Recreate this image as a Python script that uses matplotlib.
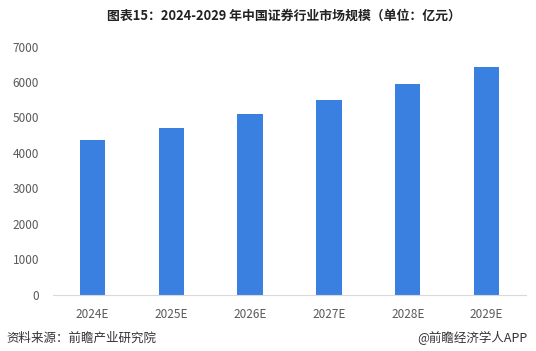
import matplotlib
matplotlib.use("Agg")
import matplotlib.pyplot as plt

plt.rcParams['font.family'] = ['Noto Sans CJK SC', 'DejaVu Sans']

# market size, 100 million yuan
years = ["2024E", "2025E", "2026E", "2027E", "2028E", "2029E"]
market_size = [4360, 4700, 5100, 5490, 5950, 6430]

fig = plt.figure(figsize=(5.36, 3.51), dpi=100)
ax = fig.add_axes([53 / 536, 56.5 / 351, 473 / 536, 248 / 351])

ax.bar(range(len(years)), market_size, width=0.32, color="#3A80E0", zorder=2)

ax.set_xlim(-0.5, len(years) - 0.5)
ax.set_ylim(0, 7000)
ax.set_yticks(range(0, 7001, 1000))
ax.set_xticks(range(len(years)))
ax.set_xticklabels(years)
ax.tick_params(axis="both", length=0, labelsize=8.5, labelcolor="#595959")
ax.tick_params(axis="y", pad=10)
ax.tick_params(axis="x", pad=10)

for side in ["top", "right", "left"]:
    ax.spines[side].set_visible(False)
ax.spines["bottom"].set_color("#D9D9D9")

fig.text(0.530, 0.955, "图表15：2024-2029 年中国证券行业市场规模（单位：亿元）",
         ha="center", va="center", fontsize=9.3, fontweight="bold", color="#222222")
fig.text(0.012, 0.037, "资料来源：前瞻产业研究院", ha="left", va="center",
         fontsize=9, color="#333333")
fig.text(0.985, 0.037, "@前瞻经济学人APP", ha="right", va="center",
         fontsize=9, color="#333333")

fig.savefig("out.png", dpi=100)
